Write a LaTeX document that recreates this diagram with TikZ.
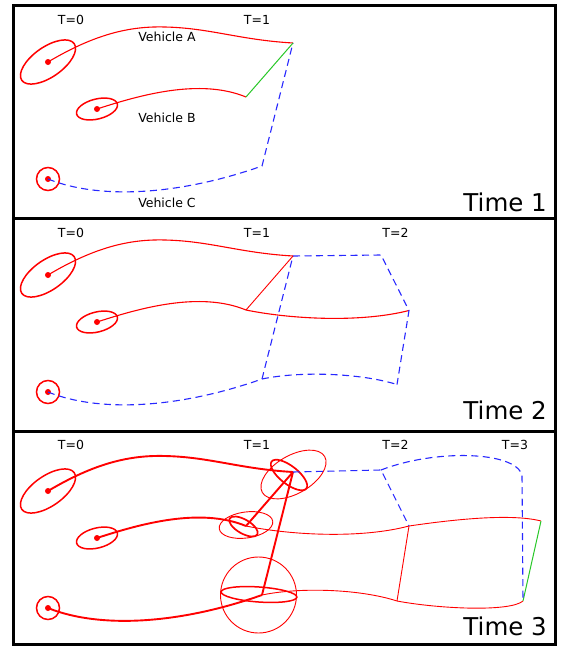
\documentclass[tikz,border=0pt]{standalone}
\usepackage{fontspec}
\setmainfont{DejaVu Sans}
\definecolor{vred}{RGB}{255,0,0}
\definecolor{vblue}{RGB}{40,40,255}
\definecolor{vgreen}{RGB}{40,200,40}
\begin{document}
\begin{tikzpicture}[x=1pt,y=-1pt,
  panelbox/.style={draw=black,line width=3pt},
  redpath/.style={draw=vred,line width=1.1pt},
  thickred/.style={draw=vred,line width=1.9pt},
  thinred/.style={draw=vred,line width=0.9pt},
  ell/.style={draw=vred,line width=1.5pt},
  bluedash/.style={draw=vblue,line width=1.1pt,dash pattern=on 7pt off 4.5pt},
  greenline/.style={draw=vgreen,line width=1pt},
  dotnode/.style={circle,fill=vred,inner sep=0pt,minimum size=6pt},
  tlabel/.style={font=\fontsize{12.5}{14}\selectfont,inner sep=0pt},
  timelabel/.style={font=\fontsize{24.5}{28}\selectfont,anchor=base east,inner sep=0pt}]
\useasboundingbox (0,0) rectangle (560,648);
\fill[white] (0,0) rectangle (560,648);
% ---------- panel frames
\draw[panelbox] (13,5) rectangle (555,218);
\draw[panelbox] (13,218) rectangle (555,431);
\draw[panelbox] (13,431) rectangle (555,644);

% ================= Panel 1
\coordinate (p1A1) at (293,43);
\coordinate (p1B1) at (246,97);
\coordinate (p1C1) at (262,166);
\node[dotnode] (p1A0) at (48,62) {};
\node[dotnode] (p1B0) at (97,109) {};
\node[dotnode] (p1C0) at (48,179) {};
\draw[ell,rotate=35] (p1A0.center) ellipse [x radius=32,y radius=15];
\draw[ell,rotate=14] (p1B0.center) ellipse [x radius=21,y radius=10];
\draw[ell] (p1C0.center) circle [radius=11.5];
\draw[redpath] (p1A0.center) .. controls (95,34) and (130,26) .. (165,27) .. controls (210,28) and (240,40) .. (p1A1);
\draw[redpath] (p1B0.center) .. controls (140,95) and (200,78) .. (p1B1);
\draw[bluedash] (p1C0.center) .. controls (100,200) and (180,195) .. (p1C1) -- (p1A1);
\draw[greenline] (p1B1) -- (p1A1);
\node[tlabel] (p1t0) at (71,20) {T=0};
\node[tlabel] (p1t1) at (257,20) {T=1};
\node[tlabel] (vA) at (167,37) {Vehicle A};
\node[tlabel] (vB) at (167,118) {Vehicle B};
\node[tlabel] (vC) at (167,203) {Vehicle C};
\node[timelabel] (time1) at (547,211) {Time 1};

% ================= Panel 2
\coordinate (p2A1) at (293,256);
\coordinate (p2B1) at (246,310);
\coordinate (p2C1) at (262,379);
\coordinate (p2A2) at (381,255);
\coordinate (p2B2) at (409,310.5);
\coordinate (p2C2) at (397,384.5);
\node[dotnode] (p2A0) at (48,275) {};
\node[dotnode] (p2B0) at (97,322) {};
\node[dotnode] (p2C0) at (48,392) {};
\draw[ell,rotate=35] (p2A0.center) ellipse [x radius=32,y radius=15];
\draw[ell,rotate=14] (p2B0.center) ellipse [x radius=21,y radius=10];
\draw[ell] (p2C0.center) circle [radius=11.5];
\draw[redpath] (p2A0.center) .. controls (95,247) and (130,239) .. (165,240) .. controls (210,241) and (240,253) .. (p2A1);
\draw[redpath] (p2B0.center) .. controls (140,308) and (200,291) .. (p2B1) .. controls (290,319) and (360,323) .. (p2B2);
\draw[bluedash] (p2C0.center) .. controls (100,413) and (180,408) .. (p2C1) .. controls (300,371) and (360,373) .. (p2C2);
\draw[bluedash] (p2C1) -- (p2A1);
\draw[bluedash] (p2A1) -- (p2A2) -- (p2B2) -- (p2C2);
\draw[thinred] (p2B1) -- (p2A1);
\node[tlabel] (p2t0) at (71,233) {T=0};
\node[tlabel] (p2t1) at (257,233) {T=1};
\node[tlabel] (p2t2) at (395.5,233) {T=2};
\node[timelabel] (time2) at (547,419) {Time 2};

% ================= Panel 3
\coordinate (p3A1) at (293,472);
\coordinate (p3B1) at (246,526);
\coordinate (p3C1) at (262,595);
\coordinate (p3A2) at (381,470);
\coordinate (p3B2) at (409,526);
\coordinate (p3C2) at (397,601);
\coordinate (p3B3) at (541,521);
\coordinate (p3C3) at (523,601);
\node[dotnode] (p3A0) at (48,491) {};
\node[dotnode] (p3B0) at (97,538) {};
\node[dotnode] (p3C0) at (48,608) {};
\draw[ell,rotate=35] (p3A0.center) ellipse [x radius=32,y radius=15];
\draw[ell,rotate=14] (p3B0.center) ellipse [x radius=21,y radius=10];
\draw[ell] (p3C0.center) circle [radius=11.5];
% uncertainty ellipses at T=1
\draw[thinred,rotate around={30:(293.5,474.5)}] (293.5,474.5) ellipse [x radius=36,y radius=19];
\draw[ell,line width=1.7pt,rotate around={-38:(289,475)}] (289,475) ellipse [x radius=22,y radius=9];
\draw[thinred,rotate around={8:(246,525)}] (246,525) ellipse [x radius=27,y radius=13];
\draw[ell,line width=1.7pt,rotate around={-30:(243.5,526.5)}] (243.5,526.5) ellipse [x radius=16,y radius=7];
\draw[thinred] (258.5,595) circle [radius=38];
\draw[ell,rotate around={-4:(259,594.5)}] (259,594.5) ellipse [x radius=38,y radius=7.5];
% paths
\draw[thickred] (p3A0.center) .. controls (95,463) and (130,455) .. (165,456) .. controls (210,457) and (240,469) .. (p3A1);
\draw[thickred] (p3B0.center) .. controls (140,524) and (200,507) .. (p3B1);
\draw[thickred] (p3C0.center) .. controls (100,629) and (180,624) .. (p3C1);
\draw[thinred] (p3B1) .. controls (290,535) and (360,539) .. (p3B2) .. controls (450,520) and (510,513) .. (p3B3);
\draw[thinred] (p3C1) .. controls (300,587) and (360,589) .. (p3C2) .. controls (440,609) and (510,612) .. (p3C3);
\draw[thickred] (p3B1) -- (p3A1);
\draw[thickred] (p3C1) -- (p3A1);
\draw[thinred] (p3B2) -- (p3C2);
\draw[greenline] (p3B3) -- (p3C3);
\draw[bluedash] (p3A1) -- (p3A2) -- (p3B2);
\draw[bluedash] (p3A2) .. controls (435,449) and (515,451) .. (522,475) -- (p3C3);
\node[tlabel] (p3t0) at (71,445) {T=0};
\node[tlabel] (p3t1) at (257,445) {T=1};
\node[tlabel] (p3t2) at (395.5,445) {T=2};
\node[tlabel] (p3t3) at (515,445) {T=3};
\node[timelabel] (time3) at (547,635) {Time 3};
\end{tikzpicture}
\end{document}
